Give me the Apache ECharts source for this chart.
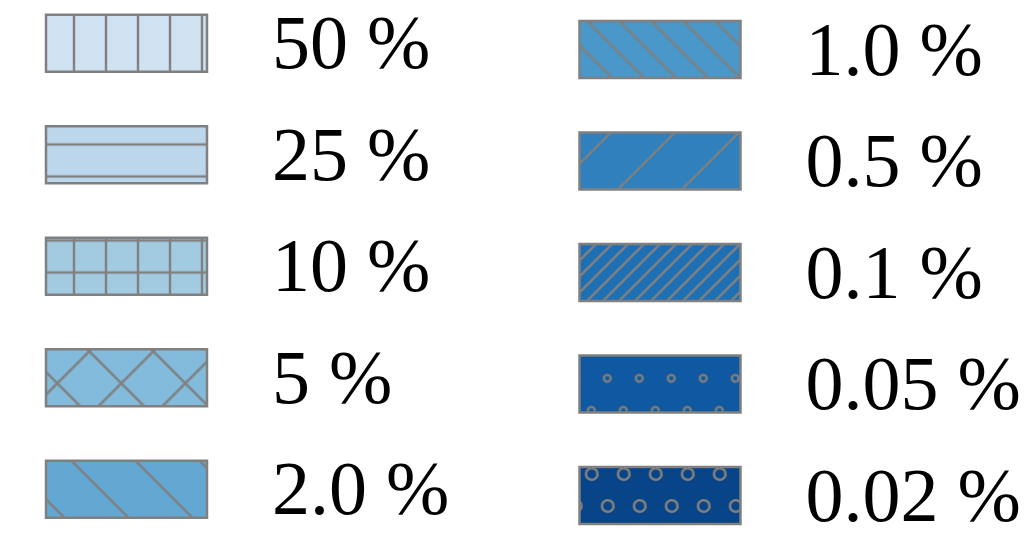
<!DOCTYPE html>
<html>
<head>
<meta charset="utf-8">
<script src="https://cdn.jsdelivr.net/npm/echarts@6/dist/echarts.min.js"></script>
<style>
  html, body { margin: 0; padding: 0; background: #fff; }
  #chart { width: 1035px; height: 537px; }
</style>
</head>
<body>
<div id="chart"></div>
<script>
// legend entries
var labels = ['50 %', '25 %', '10 %', '5 %', '2.0 %', '1.0 %', '0.5 %', '0.1 %', '0.05 %', '0.02 %'];
var columns = [0, 0, 0, 0, 0, 1, 1, 1, 1, 1];
var rows = [0, 1, 2, 3, 4, 0, 1, 2, 3, 4];
var fills = ['#d0e1f2', '#bcd7ec', '#a2cbe2', '#82bbdb', '#63a7d3', '#4a97c9', '#3080bd', '#1f6fb3', '#0e59a2', '#084488'];
var hatches = ['|', '-', '+', 'x', '\\', '\\\\', '/', '///', 'o', 'O'];

var HATCH_COLOR = '#808080';
var HATCH_LW = 2.4;

// tile drawing for each hatch style (w, h, phase ox/oy on the page)
var tiles = {
  '|':    { w: 32, h: 32, ox: 58, oy: 0, draw: function (g) { g.fillRect(14.8, 0, 2.4, 32); } },
  '-':    { w: 32, h: 32, ox: 0, oy: 128.5, draw: function (g) { g.fillRect(0, 14.8, 32, 2.4); } },
  '+':    { w: 32, h: 32, ox: 58, oy: 256.5, draw: function (g) { g.fillRect(14.8, 0, 2.4, 32); g.fillRect(0, 14.8, 32, 2.4); } },
  'x':    { w: 64, h: 64, ox: 25.3, oy: 351.3, draw: function (g) { diag(g, 64, 64, 1); diag(g, 64, 64, -1); } },
  '\\':   { w: 64, h: 64, ox: 58.7, oy: 0, draw: function (g) { diag(g, 64, 64, 1); } },
  '\\\\': { w: 32, h: 32, ox: 22.3, oy: 0, draw: function (g) { diag(g, 32, 32, 1); } },
  '/':    { w: 64, h: 64, ox: 39.3, oy: 0, draw: function (g) { diag(g, 64, 64, -1); } },
  '///':  { w: 16, h: 16, ox: 8, oy: 0, draw: function (g) { diag(g, 16, 16, -1); } },
  'o':    { w: 32, h: 64, ox: 591.3, oy: 362.3, draw: function (g) { rings(g, 3.4, 2.4); } },
  'O':    { w: 32, h: 64, ox: 575.7, oy: 458, draw: function (g) { rings(g, 5.8, 2.6); } }
};

function diag(g, w, h, dir) {
  g.lineWidth = HATCH_LW;
  g.beginPath();
  for (var k = -1; k <= 1; k++) {
    if (dir > 0) { g.moveTo(k * w - 8, -8); g.lineTo(k * w + w + 8, h + 8); }
    else { g.moveTo(k * w - 8, h + 8); g.lineTo(k * w + w + 8, -8); }
  }
  g.stroke();
}

function rings(g, r, lw) {
  g.lineWidth = lw;
  var pts = [[16, 16], [0, 48], [32, 48], [16, -16], [16, 80]];
  pts.forEach(function (p) {
    g.beginPath();
    g.arc(p[0], p[1], r, 0, Math.PI * 2);
    g.stroke();
  });
}

function makePattern(hatch, color) {
  var t = tiles[hatch];
  var cv = document.createElement('canvas');
  cv.width = t.w; cv.height = t.h;
  var g = cv.getContext('2d');
  g.fillStyle = color;
  g.fillRect(0, 0, t.w, t.h);
  g.fillStyle = HATCH_COLOR;
  g.strokeStyle = HATCH_COLOR;
  t.draw(g);
  return { image: cv, repeat: 'repeat', x: t.ox, y: t.oy };
}

var data = labels.map(function (l, i) { return [columns[i], rows[i]]; });

var myChart = echarts.init(document.getElementById('chart'));
var option = {
  backgroundColor: '#fff',
  animation: false,
  grid: { left: 126.5, top: 43.3, width: 533.5, height: 446 },
  xAxis: { type: 'category', data: ['0', '1'], boundaryGap: false, show: false },
  yAxis: { type: 'category', data: ['0', '1', '2', '3', '4'], boundaryGap: false, inverse: true, show: false },
  series: [{
    type: 'custom',
    data: data,
    renderItem: function (params, api) {
      var i = params.dataIndex;
      var c = api.coord([api.value(0), api.value(1)]);
      var cy = c[1] + (api.value(0) === 1 ? 6.3 : 0);
      var x = c[0] - 80.5, y = cy - 28.5;
      return {
        type: 'group',
        children: [
          { type: 'rect', shape: { x: x, y: y, width: 161, height: 57 },
            style: { fill: makePattern(hatches[i], fills[i]), stroke: HATCH_COLOR, lineWidth: 2.5 } },
          { type: 'text',
            style: { text: labels[i], x: x + 161 + 65, y: cy + 5, verticalAlign: 'middle',
                     font: '76px "Liberation Serif"', fill: '#000' } }
        ]
      };
    }
  }]
};
myChart.setOption(option);
</script>
</body>
</html>
